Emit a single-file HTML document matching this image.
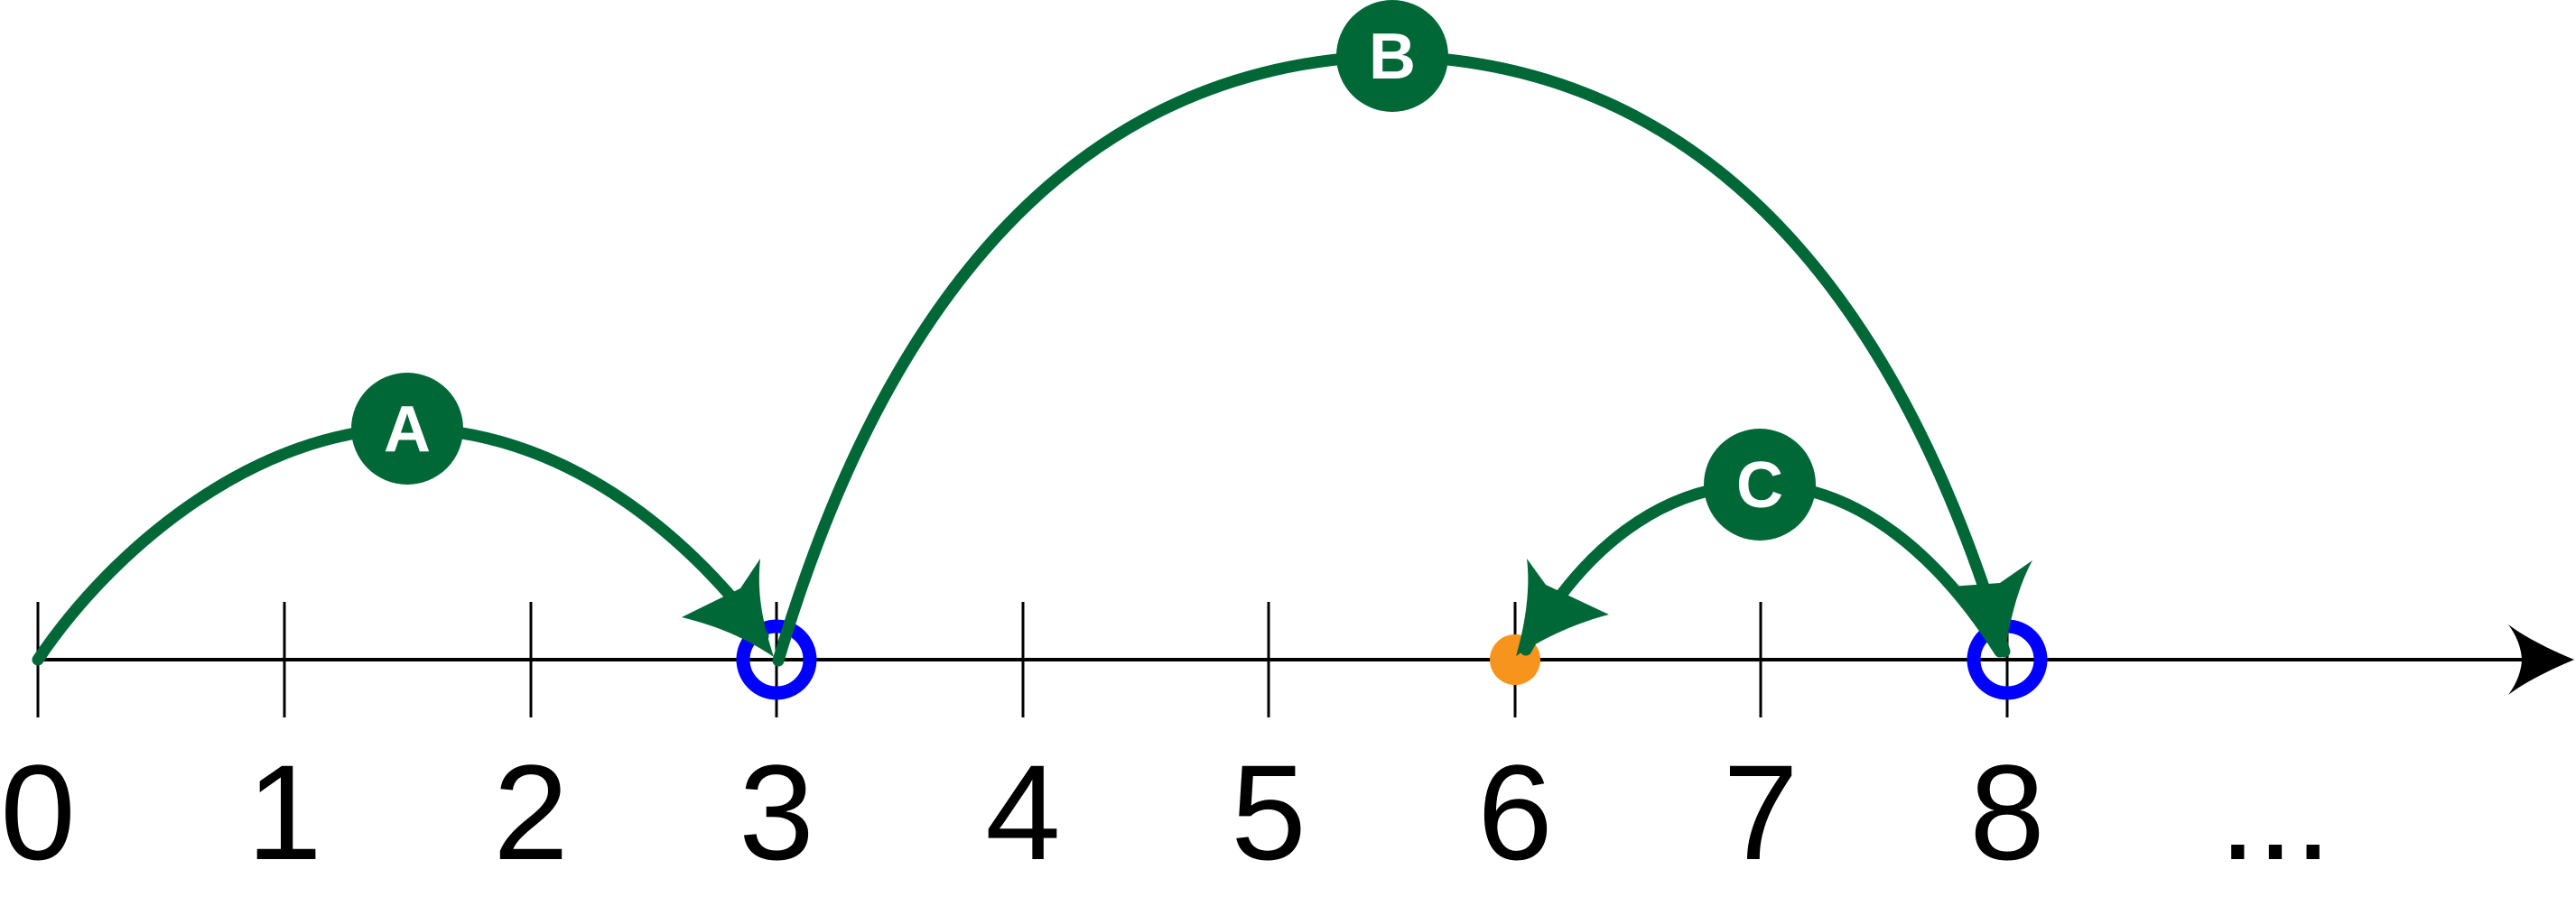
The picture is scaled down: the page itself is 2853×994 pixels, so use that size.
<!DOCTYPE html>
<html><head><style>body{margin:0;background:#fff}svg{display:block}</style></head><body>
<svg width="2853" height="994" viewBox="0 0 2853 994" xmlns="http://www.w3.org/2000/svg">
<line x1="42" y1="731" x2="2800" y2="731" stroke="#000" stroke-width="4"/>
<path d="M2851,731 C2820,718 2795,705 2778,692 Q2792,711 2793,731 Q2792,751 2778,770 C2795,757 2820,744 2851,731Z" fill="#000"/>
<g stroke="#000" stroke-width="3">
<line x1="42" y1="667" x2="42" y2="795"/><line x1="315" y1="667" x2="315" y2="795"/><line x1="588" y1="667" x2="588" y2="795"/><line x1="860" y1="667" x2="860" y2="795"/><line x1="1133" y1="667" x2="1133" y2="795"/><line x1="1405" y1="667" x2="1405" y2="795"/><line x1="1678" y1="667" x2="1678" y2="795"/><line x1="1950" y1="667" x2="1950" y2="795"/><line x1="2223" y1="667" x2="2223" y2="795"/>
</g>
<circle cx="1678" cy="731" r="28" fill="#f7941d"/>
<circle cx="860" cy="731" r="37" fill="none" stroke="#0000ff" stroke-width="15"/>
<circle cx="2223" cy="731" r="37" fill="none" stroke="#0000ff" stroke-width="15"/>
<g fill="none" stroke="#006837" stroke-width="13" stroke-linecap="round">
<path d="M42,731 C130,600 290,475 451,475 C620,475 760,590 845,705"/>
<path d="M862,732 C960,400 1150,70 1542,62 C1934,70 2124,400 2220,722"/>
<path d="M2215,722 C2150,620 2060,537 1949,537 C1840,537 1750,610 1690,720"/>
</g>
<g fill="#006837">
<path d="M857,728 C845,690 838,660 842,619 L820,652 L755,684 C800,695 830,710 857,728 Z"/>
<path d="M2220,728 C2225,690 2235,650 2251,621 L2215,646 L2160,650 C2185,670 2205,700 2220,728 Z"/>
<path d="M1679,727 C1690,690 1695,650 1691,619 L1712,648 L1782,681 C1740,692 1705,710 1679,727 Z"/>
<circle cx="451" cy="475" r="62"/><circle cx="1542" cy="62" r="62"/><circle cx="1949" cy="537" r="62"/>
</g>
<g fill="#fff" font-family="Liberation Sans, sans-serif" font-weight="bold" font-size="72" text-anchor="middle">
<text x="451" y="500">A</text><text x="1542" y="87">B</text><text x="1949" y="562">C</text>
</g>
<g fill="#000" font-family="Liberation Sans, sans-serif" font-size="150" text-anchor="middle">
<text x="42" y="952">0</text><text x="315" y="952">1</text><text x="588" y="952">2</text><text x="860" y="952">3</text><text x="1133" y="952">4</text><text x="1405" y="952">5</text><text x="1678" y="952">6</text><text x="1950" y="952">7</text><text x="2223" y="952">8</text><text x="2520" y="952">...</text>
</g>
</svg>
</body></html>
